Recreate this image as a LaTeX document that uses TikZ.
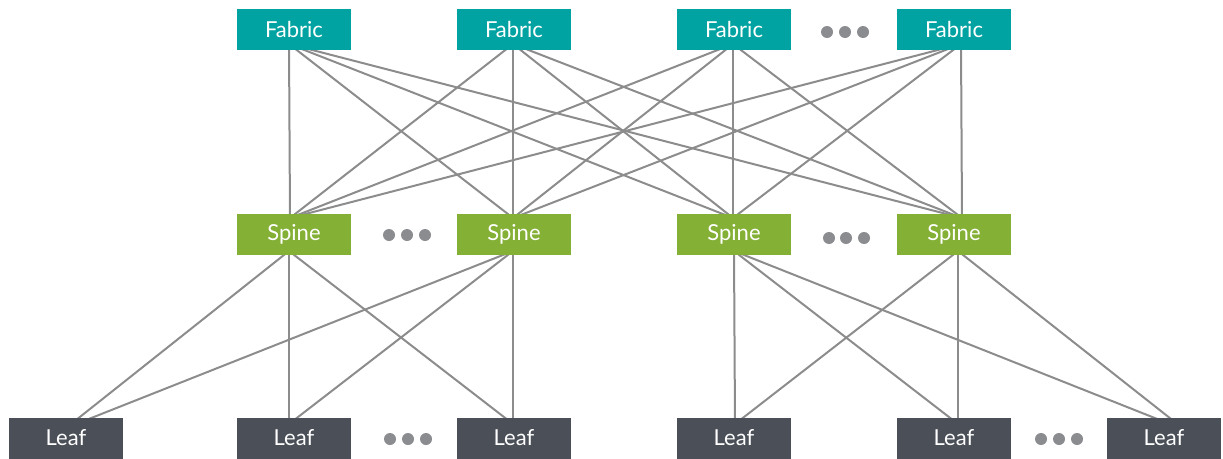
\documentclass[tikz,border=0pt]{standalone}
\usepackage{fontspec}
\setmainfont{Lato}
\usetikzlibrary{backgrounds}
\definecolor{fabriccol}{HTML}{00A3A1}
\definecolor{spinecol}{HTML}{84B035}
\definecolor{leafcol}{HTML}{4A4F58}
\definecolor{linecol}{HTML}{8C8C8C}
\definecolor{dotcol}{HTML}{8A8C8F}
\tikzset{
  box/.style={minimum width=114pt, minimum height=41pt, inner sep=0pt, text=white, font=\fontsize{22}{25}\selectfont},
  fabricbox/.style={box, fill=fabriccol},
  spinebox/.style={box, fill=spinecol},
  leafbox/.style={box, fill=leafcol},
  link/.style={draw=linecol, line width=2pt},
  dotmark/.style={circle, fill=dotcol, inner sep=0pt, minimum size=12pt}
}
\begin{document}
\begin{tikzpicture}[x=1pt,y=-1pt]
\useasboundingbox (0,0) rectangle (1223,458);
% boxes
\node[fabricbox] (F1) at (294,29.5) {Fabric};
\node[fabricbox] (F2) at (514,29.5) {Fabric};
\node[fabricbox] (F3) at (734,29.5) {Fabric};
\node[fabricbox] (F4) at (954,29.5) {Fabric};
\node[spinebox] (S1) at (294,234.5) {Spine};
\node[spinebox] (S2) at (514,234.5) {Spine};
\node[spinebox] (S3) at (734,234.5) {Spine};
\node[spinebox] (S4) at (954,234.5) {Spine};
\node[leafbox] (L1) at (66,438) {Leaf};
\node[leafbox] (L2) at (294,438) {Leaf};
\node[leafbox] (L3) at (514,438) {Leaf};
\node[leafbox] (L4) at (734,438) {Leaf};
\node[leafbox] (L5) at (954,438) {Leaf};
\node[leafbox] (L6) at (1164,438) {Leaf};
% hubs
\coordinate (f1) at (289,44);
\coordinate (f2) at (513,44);
\coordinate (f3) at (733,44);
\coordinate (f4) at (961,44);
\coordinate (s1t) at (290,218);
\coordinate (s2t) at (513,218);
\coordinate (s3t) at (733,218);
\coordinate (s4t) at (962,218);
\coordinate (s1b) at (289,251);
\coordinate (s2b) at (513,251);
\coordinate (s3b) at (734,251);
\coordinate (s4b) at (958,251);
\coordinate (l1) at (66,428);
\coordinate (l2) at (289,424);
\coordinate (l3) at (513,424);
\coordinate (l4) at (735,424);
\coordinate (l5) at (958,424);
\coordinate (l6) at (1185,430);
\begin{scope}[on background layer]
\foreach \f in {f1,f2,f3,f4}{
  \foreach \s in {s1t,s2t,s3t,s4t}{
    \draw[link] (\f) -- (\s);
  }
}
\foreach \s in {s1b,s2b}{
  \foreach \l in {l1,l2,l3}{
    \draw[link] (\s) -- (\l);
  }
}
\foreach \s in {s3b,s4b}{
  \foreach \l in {l4,l5,l6}{
    \draw[link] (\s) -- (\l);
  }
}
\end{scope}
% dots
\node[dotmark] (d1a) at (827,32) {};
\node[dotmark] (d1b) at (845,32) {};
\node[dotmark] (d1c) at (863,32) {};
\node[dotmark] (d2a) at (389,235) {};
\node[dotmark] (d2b) at (407,235) {};
\node[dotmark] (d2c) at (425,235) {};
\node[dotmark] (d3a) at (829,238) {};
\node[dotmark] (d3b) at (846,238) {};
\node[dotmark] (d3c) at (864,238) {};
\node[dotmark] (d4a) at (390,439) {};
\node[dotmark] (d4b) at (408,439) {};
\node[dotmark] (d4c) at (426,439) {};
\node[dotmark] (d5a) at (1041,439) {};
\node[dotmark] (d5b) at (1059,439) {};
\node[dotmark] (d5c) at (1077,439) {};
\end{tikzpicture}
\end{document}
